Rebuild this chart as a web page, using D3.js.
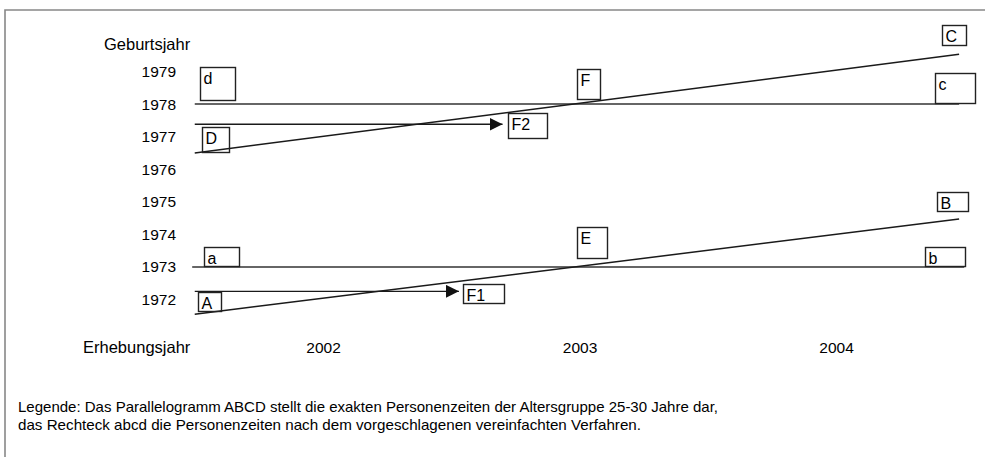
<!DOCTYPE html>
<html>
<head>
<meta charset="utf-8">
<script src="https://cdn.jsdelivr.net/npm/d3@7"></script>
<style>
    body { margin: 0; background: #fff; }
    text { font-family: "Liberation Sans", Arial, sans-serif; fill: #000; }
</style>
</head>
<body>
<script>
'use strict';

// Axis values
let surveyYears = [2002, 2003, 2004];
let birthYears = [1972, 1973, 1974, 1975, 1976, 1977, 1978, 1979];

// Parallelogram ABCD: only the long sides are drawn (year, birth year)
let diagonals = [
    {id: 'AB', from: [2001.5, 1971.55], to: [2004.48, 1974.47]},
    {id: 'DC', from: [2001.5, 1976.5], to: [2004.48, 1979.53]}
];

// Rectangle abcd: horizontal sides
let horizontals = [
    {id: 'ab', birth: 1973, from: 2001.49, to: 2004.5},
    {id: 'dc', birth: 1978, from: 2001.5, to: 2004.48}
];

// Arrows towards F1 / F2
let arrows = [
    {id: 'F1', birth: 1972.25, from: 2001.5, to: 2002.53},
    {id: 'F2', birth: 1977.38, from: 2001.5, to: 2002.7}
];

// Boxed point labels, corners in data units
let boxes = [
    {label: 'd', x0: 2001.520, x1: 2001.657, y0: 1979.138, y1: 1978.125},
    {label: 'D', x0: 2001.528, x1: 2001.634, y0: 1977.296, y1: 1976.528},
    {label: 'F', x0: 2002.990, x1: 2003.080, y0: 1979.077, y1: 1978.156},
    {label: 'F2', x0: 2002.721, x1: 2002.873, y0: 1977.726, y1: 1976.958},
    {label: 'C', x0: 2004.413, x1: 2004.507, y0: 1980.428, y1: 1979.814},
    {label: 'c', x0: 2004.386, x1: 2004.542, y0: 1978.954, y1: 1978.033},
    {label: 'a', x0: 2001.536, x1: 2001.673, y0: 1973.612, y1: 1973.029},
    {label: 'A', x0: 2001.513, x1: 2001.602, y0: 1972.230, y1: 1971.647},
    {label: 'E', x0: 2002.990, x1: 2003.107, y0: 1974.226, y1: 1973.274},
    {label: 'F1', x0: 2002.546, x1: 2002.706, y0: 1972.476, y1: 1971.893},
    {label: 'B', x0: 2004.394, x1: 2004.515, y0: 1975.300, y1: 1974.717},
    {label: 'b', x0: 2004.347, x1: 2004.503, y0: 1973.612, y1: 1973.029}
];

let legendLines = [
    'Legende: Das Parallelogramm ABCD stellt die exakten Personenzeiten der Altersgruppe 25-30 Jahre dar,',
    'das Rechteck abcd die Personenzeiten nach dem vorgeschlagenen vereinfachten Verfahren.'
];

let width = 985;
let height = 457;
let lineColor = '#1a1a1a';

let svg = d3.select('body').append('svg')
    .attr('width', width)
    .attr('height', height);

// Frame (only top and left edges are visible in the scan)
svg.append('path')
    .attr('d', 'M5,' + height + 'V10H' + width)
    .attr('fill', 'none')
    .attr('stroke', '#888')
    .attr('stroke-width', 1.6);

let x = d3.scaleLinear().domain([2002, 2004]).range([323, 836]);
let y = d3.scaleLinear().domain([1972, 1979]).range([299.5, 71.5]);

// Axes without lines or ticks
let yAxis = svg.append('g')
    .attr('transform', 'translate(177,0)')
    .call(d3.axisLeft(y).tickValues(birthYears).tickFormat(d3.format('d')).tickSize(0).tickPadding(1));

let xAxis = svg.append('g')
    .attr('transform', 'translate(0,348)')
    .call(d3.axisBottom(x).tickValues(surveyYears).tickFormat(d3.format('d')).tickSize(0).tickPadding(0));

[yAxis, xAxis].forEach(function (g) {
    g.select('.domain').remove();
    g.selectAll('text')
        .attr('font-family', '"Liberation Sans", Arial, sans-serif')
        .attr('font-size', 15.5)
        .attr('fill', '#000');
});
xAxis.selectAll('text').attr('y', 0).attr('dy', '0.35em');

svg.append('text')
    .attr('x', 104)
    .attr('y', 50)
    .attr('font-size', 16.5)
    .text('Geburtsjahr');

svg.append('text')
    .attr('x', 83)
    .attr('y', 353)
    .attr('font-size', 16.5)
    .text('Erhebungsjahr');

// Arrow head
svg.append('defs').append('marker')
    .attr('id', 'arrow')
    .attr('markerUnits', 'userSpaceOnUse')
    .attr('viewBox', '0 0 13 13')
    .attr('markerWidth', 13)
    .attr('markerHeight', 13)
    .attr('refX', 13)
    .attr('refY', 6.5)
    .attr('orient', 'auto')
    .append('path')
    .attr('d', 'M0,0L13,6.5L0,13Z')
    .attr('fill', '#111');

svg.selectAll('.horizontal')
    .data(horizontals)
    .join('line')
    .attr('class', 'horizontal')
    .attr('x1', function (d) { return x(d.from); })
    .attr('x2', function (d) { return x(d.to); })
    .attr('y1', function (d) { return y(d.birth); })
    .attr('y2', function (d) { return y(d.birth); })
    .attr('stroke', '#333')
    .attr('stroke-width', 1.5);

svg.selectAll('.diagonal')
    .data(diagonals)
    .join('line')
    .attr('class', 'diagonal')
    .attr('x1', function (d) { return x(d.from[0]); })
    .attr('y1', function (d) { return y(d.from[1]); })
    .attr('x2', function (d) { return x(d.to[0]); })
    .attr('y2', function (d) { return y(d.to[1]); })
    .attr('stroke', lineColor)
    .attr('stroke-width', 1.5);

svg.selectAll('.arrow')
    .data(arrows)
    .join('line')
    .attr('class', 'arrow')
    .attr('x1', function (d) { return x(d.from); })
    .attr('x2', function (d) { return x(d.to); })
    .attr('y1', function (d) { return y(d.birth); })
    .attr('y2', function (d) { return y(d.birth); })
    .attr('stroke', lineColor)
    .attr('stroke-width', 1.4)
    .attr('marker-end', 'url(#arrow)');

let box = svg.selectAll('.box')
    .data(boxes)
    .join('g')
    .attr('class', 'box')
    .attr('transform', function (d) {
        return 'translate(' + Math.round(x(d.x0)) + ',' + Math.round(y(d.y0)) + ')';
    });

box.append('rect')
    .attr('x', 0.5)
    .attr('y', 0.5)
    .attr('width', function (d) { return Math.round(x(d.x1) - x(d.x0)); })
    .attr('height', function (d) { return Math.round(y(d.y1) - y(d.y0)); })
    .attr('fill', 'none')
    .attr('stroke', '#222')
    .attr('stroke-width', 1.4);

box.append('text')
    .attr('x', 3.5)
    .attr('y', 16.5)
    .attr('font-size', 16)
    .text(function (d) { return d.label; });

// Legend below the chart
let legendWidths = [700, 623];
svg.selectAll('.legend')
    .data(legendLines)
    .join('text')
    .attr('class', 'legend')
    .attr('x', 18)
    .attr('y', function (d, i) { return 412 + i * 18; })
    .attr('font-size', 14.5)
    .attr('textLength', function (d, i) { return legendWidths[i]; })
    .attr('lengthAdjust', 'spacingAndGlyphs')
    .text(function (d) { return d; });
</script>
</body>
</html>
